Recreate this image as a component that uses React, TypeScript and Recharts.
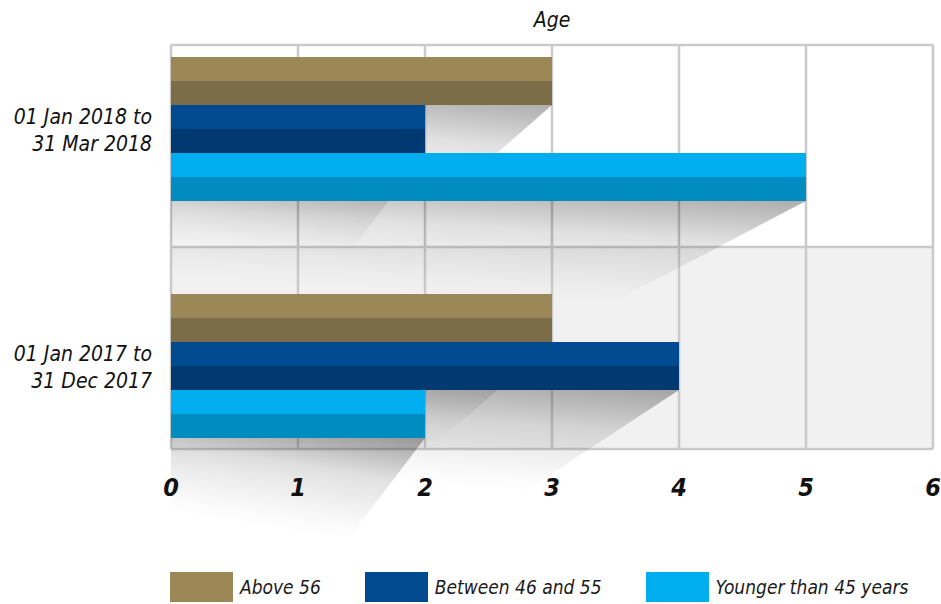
import React from 'react';
import { BarChart, Bar, XAxis, YAxis, CartesianGrid, Legend } from 'recharts';

const periods = ['01 Jan 2018 to 31 Mar 2018', '01 Jan 2017 to 31 Dec 2017'];
const above56 = [3, 3];
const between46And55 = [2, 4];
const youngerThan45 = [5, 2];
const ageTicks = [0, 1, 2, 3, 4, 5, 6];

const series = [
  { key: 'above56', name: 'Above 56', light: '#9c8856', dark: '#7b6d47' },
  { key: 'between46And55', name: 'Between 46 and 55', light: '#004a8f', dark: '#003a70' },
  { key: 'youngerThan45', name: 'Younger than 45 years', light: '#00aeef', dark: '#008cc1' },
];

const data = periods.map((period, i) => ({
  period,
  above56: above56[i],
  between46And55: between46And55[i],
  youngerThan45: youngerThan45[i],
}));

const W = 941;
const H = 604;
const MARGIN = { top: 45, right: 8, bottom: 125, left: 0 };
const Y_AXIS_W = 171;
const X_AXIS_H = 30;
const FONT = "'Liberation Sans Narrow', 'DejaVu Sans Condensed', Lato, sans-serif";

// two-tone bar with a soft diagonal shadow falling below it
function ShadedBar(props: any) {
  const { x, y, width, height, light, dark } = props;
  if (!width || width <= 0) return null;
  const bottom = y + height;
  const drop = 100;
  const shadow = `${x},${bottom} ${x + width},${bottom} ${x + width * 0.7},${bottom + drop} ${x},${bottom + drop}`;
  return (
    <g>
      <polygon points={shadow} fill="url(#barShadow)" />
      <rect x={x} y={y} width={width} height={height / 2} fill={light} />
      <rect x={x} y={y + height / 2} width={width} height={height / 2} fill={dark} />
    </g>
  );
}

function PeriodTick(props: any) {
  const { x, y, payload } = props;
  const text: string = payload.value;
  const cut = text.indexOf(' to ') + 3;
  const lines = [text.slice(0, cut), text.slice(cut + 1)];
  return (
    <text x={x - 19} y={y} textAnchor="end" fill="#111" fontFamily={FONT} fontStyle="italic" fontWeight={500} fontSize={21}>
      <tspan x={x - 19} y={y - 5}>{lines[0]}</tspan>
      <tspan x={x - 19} y={y + 22}>{lines[1]}</tspan>
    </text>
  );
}

function AgeTick(props: any) {
  const { x, y, payload } = props;
  return (
    <text x={x} y={y + 47} textAnchor="middle" fill="#111" fontFamily={FONT} fontStyle="italic" fontWeight={700} fontSize={25}>
      {payload.value}
    </text>
  );
}

function SeriesLegend() {
  return (
    <div style={{ display: 'flex', alignItems: 'center', paddingLeft: 170, fontFamily: FONT, whiteSpace: 'nowrap' }}>
      {series.map((s) => (
        <div key={s.key} style={{ display: 'flex', alignItems: 'center', flexShrink: 0, marginRight: 44 }}>
          <div style={{ width: 63, height: 30, background: s.light, flexShrink: 0 }} />
          <span style={{ marginLeft: 7, fontSize: 19, fontStyle: 'italic', fontWeight: 500, color: '#1a1a1a' }}>{s.name}</span>
        </div>
      ))}
    </div>
  );
}

export default function App() {
  const plotTop = MARGIN.top;
  const plotBottom = H - MARGIN.bottom - X_AXIS_H;
  const plotCenterX = (Y_AXIS_W + W - MARGIN.right) / 2;
  return (
    <div style={{ position: 'absolute', left: 0, top: 0, width: W, height: H, background: '#fff' }}>
      <BarChart width={W} height={H} data={data} layout="vertical" margin={MARGIN} barSize={48} barGap={0}>
        <defs>
          <linearGradient id="barShadow" x1="1" y1="0" x2="0.6" y2="1">
            <stop offset="0%" stopColor="#000" stopOpacity={0.32} />
            <stop offset="40%" stopColor="#000" stopOpacity={0.12} />
            <stop offset="85%" stopColor="#000" stopOpacity={0.02} />
            <stop offset="100%" stopColor="#000" stopOpacity={0} />
          </linearGradient>
        </defs>
        <CartesianGrid
          stroke="#cacaca"
          strokeWidth={2.5}
          horizontalCoordinatesGenerator={() => [plotTop, (plotTop + plotBottom) / 2, plotBottom]}
          horizontalFill={['#ffffff', '#f1f1f1']}
          fillOpacity={1}
        />
        <XAxis
          type="number"
          domain={[0, 6]}
          ticks={ageTicks}
          interval={0}
          axisLine={false}
          tickLine={false}
          tickSize={0}
          tickMargin={0}
          height={X_AXIS_H}
          tick={<AgeTick />}
        />
        <YAxis
          type="category"
          dataKey="period"
          width={Y_AXIS_W}
          axisLine={false}
          tickLine={false}
          tickSize={0}
          tickMargin={0}
          padding={{ top: -35, bottom: -35 }}
          tick={<PeriodTick />}
        />
        <Legend
          verticalAlign="middle"
          align="center"
          layout="horizontal"
          wrapperStyle={{ top: 572, left: 0, width: W }}
          content={<SeriesLegend />}
        />
        {series.map((s) => (
          <Bar
            key={s.key}
            dataKey={s.key}
            name={s.name}
            fill={s.light}
            isAnimationActive={false}
            shape={(p: any) => <ShadedBar {...p} light={s.light} dark={s.dark} />}
          />
        ))}
        <text x={plotCenterX} y={27} textAnchor="middle" fill="#111" fontFamily={FONT} fontStyle="italic" fontWeight={500} fontSize={21}>
          Age
        </text>
      </BarChart>
    </div>
  );
}
